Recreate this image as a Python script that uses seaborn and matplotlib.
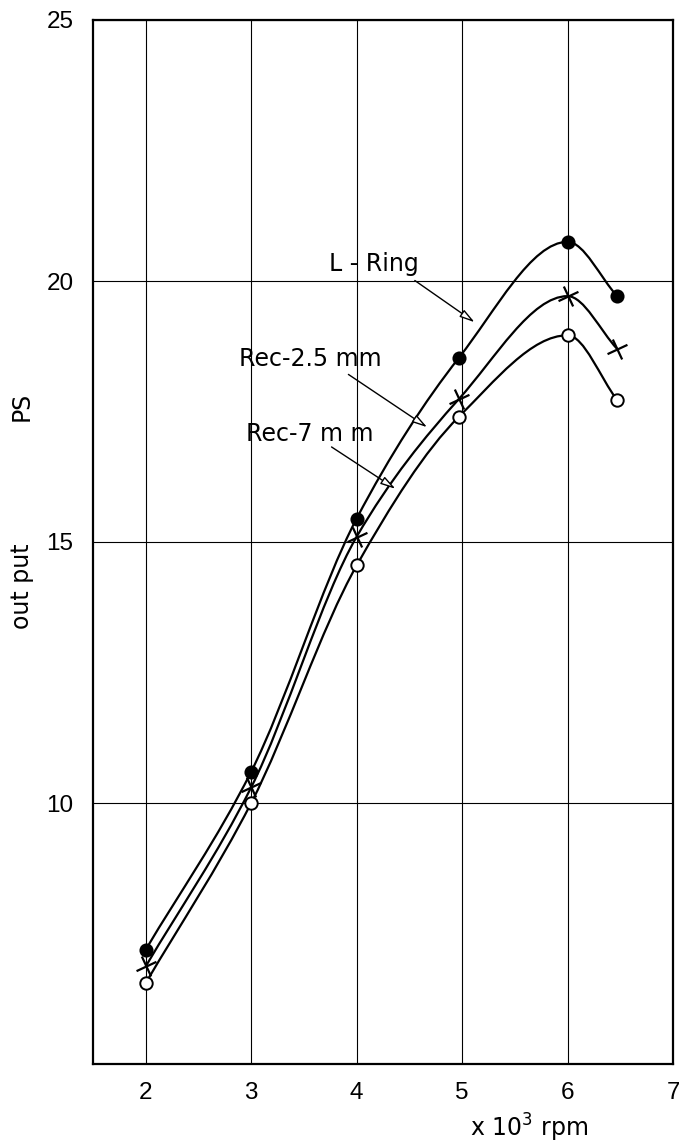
import numpy as np
import matplotlib
matplotlib.use("Agg")
import matplotlib.pyplot as plt
import seaborn as sns
import pandas as pd
from matplotlib.path import Path
from matplotlib.patches import PathPatch
from matplotlib.markers import MarkerStyle
from matplotlib.transforms import Affine2D

# ---- data ----
rpm = [2, 3, 4, 4.97, 6, 6.47]
l_ring = [7.19, 10.6, 15.45, 18.53, 20.75, 19.71]
rec_25 = [6.87, 10.3, 15.1, 17.74, 19.71, 18.7]
rec_7 = [6.55, 10.0, 14.55, 17.4, 18.96, 17.72]
x_ticks = [2, 3, 4, 5, 6, 7]
y_ticks = [10, 15, 20, 25]

sns.set_style("white")
plt.rcParams['font.family'] = ['DejaVu Sans']
plt.rcParams['text.color'] = 'black'
plt.rcParams['axes.labelcolor'] = 'black'
plt.rcParams['xtick.color'] = 'black'
plt.rcParams['ytick.color'] = 'black'

fig = plt.figure(figsize=(6.79, 11.46), dpi=100)
ax = fig.add_axes([93/679, (1146-1064)/1146, (673-93)/679, (1064-20)/1146])


def smooth_path(xs, ys):
    xs = np.asarray(xs, float); ys = np.asarray(ys, float)
    n = len(xs)
    h = np.diff(xs)
    d = np.diff(ys) / h
    m = np.zeros(n)
    m[0] = d[0]
    m[-1] = d[-1]
    for i in range(1, n-1):
        if d[i-1] * d[i] <= 0:
            m[i] = 0.0
        else:
            w1 = 2*h[i] + h[i-1]
            w2 = h[i] + 2*h[i-1]
            m[i] = (w1 + w2) / (w1/d[i-1] + w2/d[i])
    verts = [(xs[0], ys[0])]
    codes = [Path.MOVETO]
    for i in range(n-1):
        c1 = (xs[i] + h[i]/3, ys[i] + m[i]*h[i]/3)
        c2 = (xs[i+1] - h[i]/3, ys[i+1] - m[i+1]*h[i]/3)
        verts += [c1, c2, (xs[i+1], ys[i+1])]
        codes += [Path.CURVE4]*3
    return Path(verts, codes)


for ys in (l_ring, rec_25, rec_7):
    ax.add_patch(PathPatch(smooth_path(rpm, ys), fill=False, ec='black', lw=1.6, zorder=3))

df = pd.DataFrame({'rpm': rpm, 'L-Ring': l_ring, 'Rec-2.5': rec_25, 'Rec-7': rec_7})
sns.scatterplot(data=df, x='rpm', y='L-Ring', ax=ax, marker='o', s=80,
                color='black', edgecolor='black', linewidth=1.2, zorder=5)
plus = MarkerStyle('+', transform=Affine2D().rotate_deg(25))
sns.scatterplot(data=df, x='rpm', y='Rec-2.5', ax=ax, marker=plus, s=250,
                color='black', linewidth=1.6, zorder=5)
sns.scatterplot(data=df, x='rpm', y='Rec-7', ax=ax, marker='o', s=80,
                color='white', edgecolor='black', linewidth=1.4, zorder=5)

ax.set_xlim(1.5, 7)
ax.set_ylim(5, 25)
ax.set_xticks(x_ticks)
ax.set_yticks(y_ticks)
ax.set_xticklabels([str(v) for v in x_ticks], fontfamily='Liberation Sans')
ax.set_yticklabels([str(v) for v in y_ticks], fontfamily='Liberation Sans')
ax.tick_params(axis='both', length=0, labelsize=17.5, colors='black')
ax.tick_params(axis='x', pad=13)
ax.tick_params(axis='y', pad=14)
ax.grid(True, color='black', lw=0.8)
ax.set_axisbelow(True)
for s in ax.spines.values():
    s.set_color('black')
    s.set_linewidth(1.6)
ax.set_xlabel('')
ax.set_ylabel('')

# annotations
arrow = dict(arrowstyle='-|>,head_length=0.9,head_width=0.25', fc='white', ec='black', lw=1.0)
ax.annotate('', xy=(5.14, 19.18), xytext=(4.53, 20.04), arrowprops=arrow, zorder=4)
ax.annotate('', xy=(4.69, 17.17), xytext=(3.90, 18.24), arrowprops=arrow, zorder=4)
ax.annotate('', xy=(4.39, 15.99), xytext=(3.74, 16.85), arrowprops=arrow, zorder=4)
ax.text(3.74, 20.33, 'L - Ring', fontsize=17, ha='left', va='center')
ax.text(2.885, 18.50, 'Rec-2.5 mm', fontsize=17, ha='left', va='center')
ax.text(2.95, 17.07, 'Rec-7 m m', fontsize=17, ha='left', va='center')

fig.text(529/679, 1-1128/1146, r'x 10$^3$ rpm', fontsize=17, ha='center', va='center')
fig.text(22/679, 1-406/1146, 'PS', fontsize=17, rotation=90, ha='center', va='center')
fig.text(22/679, 1-586/1146, 'out put', fontsize=17, rotation=90, ha='center', va='center')

fig.savefig('out.png', dpi=100)
